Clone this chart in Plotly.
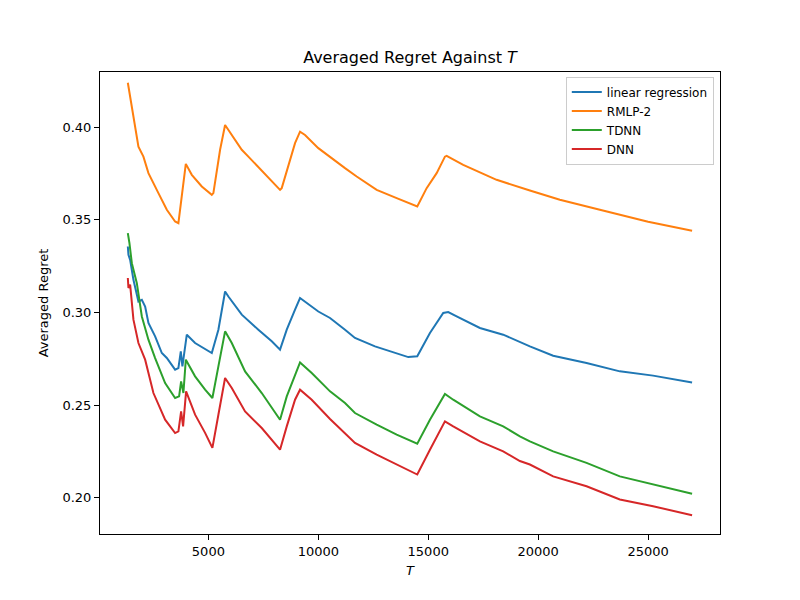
import plotly.graph_objects as go

# RMLP-2 (orange)
t_rmlp = [1336, 1441, 1636, 1818, 2045, 2273, 2727, 3109, 3486, 3636, 3973, 4245, 4700, 5155, 5227,
          5532, 5759, 5909, 6518, 6818, 7727, 8259, 8336, 8636, 8941, 9168, 9395, 10000, 10532,
          11214, 11745, 12655, 13564, 14500, 14927, 15382, 15759, 15836, 16591, 18109, 19623,
          20986, 22805, 25000, 27000]
y_rmlp = [0.424, 0.4165, 0.402, 0.3895, 0.3841, 0.3752, 0.3644, 0.3554, 0.3491, 0.3482, 0.3802, 0.3743,
          0.368, 0.3635, 0.3644, 0.3878, 0.4012, 0.3985, 0.3878, 0.3841, 0.3725, 0.3662, 0.3671,
          0.3787, 0.3914, 0.3976, 0.3958, 0.3887, 0.3838, 0.3779, 0.3734, 0.3662, 0.3617, 0.3572,
          0.3671, 0.3752, 0.3841, 0.3845, 0.3797, 0.3716, 0.3658, 0.3608, 0.3554, 0.349, 0.3441]

# linear regression (blue)
t_lin = [1336, 1364, 1441, 1591, 1818, 1973, 2123, 2273, 2577, 2882, 3109, 3486, 3636, 3745, 3818,
         4018, 4395, 4773, 5155, 5455, 5759, 5909, 6518, 7273, 7882, 8259, 8564, 8941, 9168,
         10000, 10532, 11214, 11668, 12577, 13564, 14091, 14500, 15077, 15682, 15909, 16291,
         17350, 18409, 19168, 19623, 20682, 22200, 23714, 25227, 27000]
y_lin = [0.3356, 0.3311, 0.3284, 0.3176, 0.3059, 0.3068, 0.3032, 0.2943, 0.2871, 0.2781, 0.2754, 0.2691,
         0.27, 0.279, 0.2709, 0.288, 0.2835, 0.2808, 0.2781, 0.2907, 0.3113, 0.3086, 0.2988,
         0.2907, 0.2844, 0.2799, 0.2907, 0.3015, 0.3078, 0.3005, 0.297, 0.2907, 0.2862, 0.2817,
         0.2781, 0.2759, 0.2763, 0.2889, 0.2997, 0.3002, 0.2979, 0.2916, 0.288, 0.284, 0.2817,
         0.2766, 0.2727, 0.2682, 0.2659, 0.2622]

# TDNN (green)
t_tdnn = [1336, 1409, 1518, 1745, 1973, 2273, 2577, 3032, 3486, 3668, 3759, 3864, 3973, 4395, 4850,
          5182, 5455, 5759, 6064, 6668, 7427, 8259, 8564, 8941, 9168, 9700, 10532, 11214, 11668,
          12655, 13564, 14500, 15077, 15759, 16136, 17350, 18409, 19168, 19623, 20682, 22200,
          23714, 25227, 27000]
y_tdnn = [0.3428, 0.3374, 0.3266, 0.3158, 0.2978, 0.2853, 0.2754, 0.2619, 0.2538, 0.2547, 0.2628, 0.2565,
          0.2745, 0.2655, 0.2583, 0.2538, 0.2709, 0.2898, 0.2835, 0.2682, 0.2565, 0.2421, 0.2547,
          0.2655, 0.273, 0.2673, 0.2574, 0.2511, 0.2457, 0.2394, 0.234, 0.2292, 0.2421, 0.256,
          0.2529, 0.2439, 0.2385, 0.2331, 0.2304, 0.225, 0.2188, 0.2115, 0.2071, 0.2021]

# DNN (red)
t_dnn = [1336, 1364, 1441, 1591, 1818, 1973, 2123, 2500, 3032, 3486, 3636, 3759, 3850, 3986, 4395,
         4850, 5182, 5455, 5759, 6064, 6668, 7427, 8259, 8564, 8941, 9168, 9700, 10532, 11214,
         11668, 12655, 13564, 14500, 15077, 15759, 16136, 17350, 18409, 19168, 19623, 20682,
         22200, 23714, 25227, 27000]
y_dnn = [0.3186, 0.3132, 0.315, 0.2961, 0.2835, 0.279, 0.2745, 0.2565, 0.2421, 0.2349, 0.2358, 0.2466,
         0.2385, 0.2574, 0.2448, 0.235, 0.2269, 0.2448, 0.2646, 0.2592, 0.2466, 0.2376, 0.2259,
         0.2385, 0.2529, 0.2583, 0.2529, 0.2425, 0.235, 0.2296, 0.2232, 0.2179, 0.2125, 0.2259,
         0.2412, 0.2385, 0.2304, 0.225, 0.2198, 0.2179, 0.2115, 0.2062, 0.199, 0.1954, 0.1905]

x_ticks = [5000, 10000, 15000, 20000, 25000]
y_ticks = [0.20, 0.25, 0.30, 0.35, 0.40]

series = [
    ("linear regression", t_lin, y_lin, "#1f77b4"),
    ("RMLP-2", t_rmlp, y_rmlp, "#ff7f0e"),
    ("TDNN", t_tdnn, y_tdnn, "#2ca02c"),
    ("DNN", t_dnn, y_dnn, "#d62728"),
]

fig = go.Figure()
for name, t, y, c in series:
    fig.add_trace(go.Scatter(x=t, y=y, mode="lines", name=name,
                             line=dict(color=c, width=2)))

font = "DejaVu Sans"
fig.update_layout(
    width=800, height=600,
    margin=dict(l=92, r=88, t=64, b=74),
    paper_bgcolor="white", plot_bgcolor="white",
    font=dict(family=font, size=13, color="black"),
    title=dict(text="Averaged Regret Against <i>T</i>", x=(410 - 8) / 800, xanchor="center",
               y=1 - 49 / 600, yanchor="middle", font=dict(size=16)),
    legend=dict(x=0.99, y=0.99, xanchor="right", yanchor="top",
                bordercolor="#cccccc", borderwidth=1, bgcolor="rgba(255,255,255,0.8)",
                font=dict(size=12), tracegroupgap=0),
    showlegend=True,
)
fig.update_xaxes(range=[70, 28270], tickvals=x_ticks, tickformat="d",
                 showgrid=False, zeroline=False, showline=True, mirror=True,
                 linecolor="black", linewidth=1, ticks="outside", ticklen=5,
                 tickcolor="black", title=dict(text="<i>T</i>", font=dict(size=13), standoff=8))
fig.update_yaxes(range=[0.1804, 0.4298], tickvals=y_ticks, tickformat=".2f",
                 showgrid=False, zeroline=False, showline=True, mirror=True,
                 linecolor="black", linewidth=1, ticks="outside", ticklen=5,
                 tickcolor="black", title=dict(text="Averaged Regret", font=dict(size=13), standoff=10))

fig.write_html("out.html")
